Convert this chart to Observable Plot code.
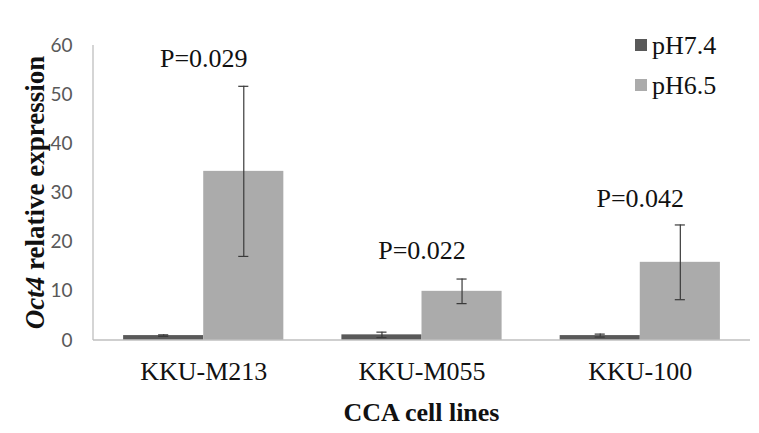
<!DOCTYPE html>
<html>
<head>
<meta charset="utf-8">
<script src="https://cdn.jsdelivr.net/npm/d3@7"></script>
<script src="https://cdn.jsdelivr.net/npm/@observablehq/plot@0.6"></script>
<style>
  html, body { margin: 0; padding: 0; background: #fff; }
  #chart { position: relative; width: 759px; height: 433px; }
</style>
</head>
<body>
<div id="chart"></div>
<script>
// ---- data ----
const groups = ["KKU-M213", "KKU-M055", "KKU-100"];
const series = ["pH7.4", "pH6.5"];
const ph74 = [1.0, 1.15, 1.0];
const ph74Err = [0.15, 0.55, 0.3];
const ph65 = [34.4, 10.0, 15.9];
const ph65Err = [17.3, 2.5, 7.6];
const pLabels = ["P=0.029", "P=0.022", "P=0.042"];
const pLabelY = [57.3, 18.3, 28.9];
const yTicks = [0, 10, 20, 30, 40, 50, 60];
const colors = ["#595959", "#ababab"];
const xTitle = "CCA cell lines";
const yTitleItalic = "Oct4";
const yTitleRest = " relative expression";

const rows = [];
groups.forEach((g, i) => {
  rows.push({group: g, series: series[0], value: ph74[i], err: ph74Err[i]});
  rows.push({group: g, series: series[1], value: ph65[i], err: ph65Err[i]});
});
const pRows = groups.map((g, i) => ({group: g, label: pLabels[i], y: pLabelY[i]}));

const serif = "Liberation Serif";
const padInner = 0.266, padOuter = 0.138;
const left = 93, right = 759 - 9;
// distance from the frame's left edge to the first facet (for the y axis labels)
const outerPx = padOuter * (right - left) / (groups.length - padInner + 2 * padOuter);

const plot = Plot.plot({
  width: 759,
  height: 433,
  marginLeft: left,
  marginRight: 759 - right,
  marginTop: 45,
  marginBottom: 93,
  style: {background: "#fff", overflow: "visible", fontFamily: serif},
  fx: {domain: groups, paddingInner: padInner, paddingOuter: padOuter, round: false, label: null, axis: null},
  x: {domain: series, padding: 0, round: false, axis: null},
  y: {domain: [0, 60], axis: null},
  color: {domain: series, range: colors},
  marks: [
    Plot.barY(rows, {fx: "group", x: "series", y: "value", fill: "series"}),
    Plot.ruleX(rows, {fx: "group", x: "series", y1: d => d.value - d.err, y2: d => d.value + d.err, stroke: "#3a3a3a", strokeWidth: 1.2}),
    Plot.tickY(rows, {fx: "group", x: "series", y: d => d.value - d.err, stroke: "#3a3a3a", strokeWidth: 1.2, insetLeft: 35, insetRight: 35}),
    Plot.tickY(rows, {fx: "group", x: "series", y: d => d.value + d.err, stroke: "#3a3a3a", strokeWidth: 1.2, insetLeft: 35, insetRight: 35}),
    Plot.text(pRows, {fx: "group", y: "y", text: "label", fontFamily: serif, fontSize: 26, fill: "#111"}),
    Plot.axisY({ticks: yTicks, tickSize: 0, tickPadding: 21 + outerPx, fontSize: 19, fontFamily: "Lato", fill: "#595959", label: null}),
    Plot.axisFx({anchor: "bottom", tickSize: 0, tickPadding: 21, fontSize: 26, fontFamily: serif, fill: "#111", label: null})
  ]
});
document.getElementById("chart").appendChild(plot);

// ---- frame lines, titles, legend (positioned with Plot's own scales) ----
const svg = d3.select(plot);
const yS = plot.scale("y");
const y0 = yS.apply(0), yTop = yS.apply(60);

svg.append("line").attr("x1", left).attr("x2", right).attr("y1", y0).attr("y2", y0)
  .attr("stroke", "#bfbfbf").attr("stroke-width", 1.3);
svg.append("line").attr("x1", left).attr("x2", left).attr("y1", yTop).attr("y2", y0)
  .attr("stroke", "#bfbfbf").attr("stroke-width", 1.3);

// x title
svg.append("text")
  .attr("x", (left + right) / 2).attr("y", y0 + 72)
  .attr("text-anchor", "middle").attr("dominant-baseline", "central")
  .attr("font-family", serif).attr("font-size", 26).attr("font-weight", "bold").attr("fill", "#111")
  .text(xTitle);

// y title
const yt = svg.append("text")
  .attr("transform", `translate(35,${(yTop + y0) / 2}) rotate(-90)`)
  .attr("text-anchor", "middle").attr("dominant-baseline", "central")
  .attr("font-family", serif).attr("font-size", 27).attr("font-weight", "bold").attr("fill", "#111");
yt.append("tspan").attr("font-style", "italic").text(yTitleItalic);
yt.append("tspan").text(yTitleRest);

// legend
const lg = svg.append("g").attr("text-anchor", "start");
series.forEach((s, i) => {
  const cy = 45 + i * 40;
  lg.append("rect").attr("x", 635).attr("y", cy - 6).attr("width", 12).attr("height", 12)
    .attr("fill", colors[i]);
  lg.append("text").attr("x", 652).attr("y", cy).attr("dominant-baseline", "central")
    .attr("text-anchor", "start")
    .attr("font-family", serif).attr("font-size", 26).attr("fill", "#111").text(s);
});
</script>
</body>
</html>
